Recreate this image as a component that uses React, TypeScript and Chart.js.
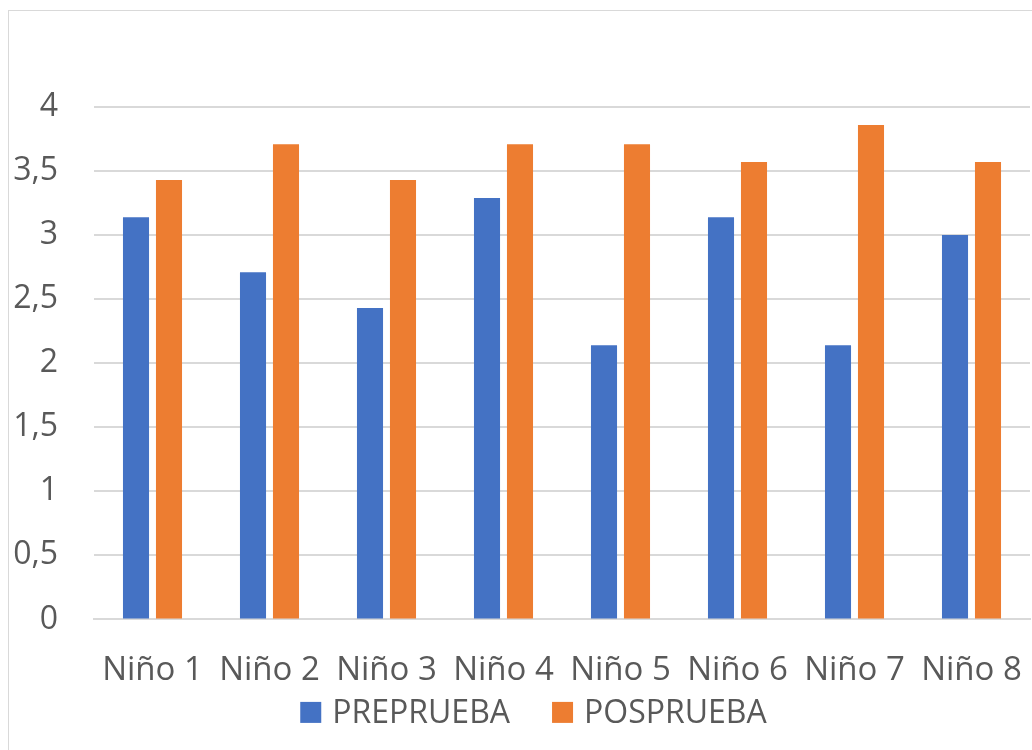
import React, { useEffect, useRef } from "react";
import { Chart, registerables } from "chart.js";

Chart.register(...registerables);

const categories = ["Niño 1", "Niño 2", "Niño 3", "Niño 4", "Niño 5", "Niño 6", "Niño 7", "Niño 8"];
const preprueba = [3.14, 2.71, 2.43, 3.29, 2.14, 3.14, 2.14, 3.0];
const posprueba = [3.43, 3.71, 3.43, 3.71, 3.71, 3.57, 3.86, 3.57];
const seriesNames = ["PREPRUEBA", "POSPRUEBA"];
const seriesColors = ["#4472C4", "#ED7D31"];

const FONT = "'Open Sans', sans-serif";
const TEXT = "#595959";
const GRID = "#d9d9d9";
const CLEAR = "rgba(0,0,0,0)";

// Legend drawn below the x-axis labels, spaced like the original (Excel-style)
const legendPlugin = {
  id: "excelLegend",
  afterDraw(chart: any) {
    const ctx = chart.ctx as CanvasRenderingContext2D;
    const box = 21;
    const gapBoxText = 11;
    const gapItems = 42;
    const centerX = 533.5;
    const cy = chart.chartArea.bottom + 93;
    ctx.save();
    ctx.font = `32px ${FONT}`;
    ctx.textBaseline = "middle";
    ctx.textAlign = "left";
    const items = chart.data.datasets.map((d: any) => ({
      text: String(d.label),
      color: String(d.backgroundColor),
    }));
    const widths = items.map((it: any) => box + gapBoxText + ctx.measureText(it.text).width);
    const total = widths.reduce((a: number, b: number) => a + b, 0) + gapItems * (items.length - 1);
    let x = centerX - total / 2;
    items.forEach((it: any, i: number) => {
      ctx.fillStyle = it.color;
      ctx.fillRect(x, cy - box / 2, box, box);
      ctx.fillStyle = TEXT;
      ctx.fillText(it.text, x + box + gapBoxText, cy + 1);
      x += widths[i] + gapItems;
    });
    ctx.restore();
  },
};

export default function App() {
  const ref = useRef<HTMLCanvasElement | null>(null);

  useEffect(() => {
    if (!ref.current) return;
    const chart = new Chart(ref.current, {
      type: "bar",
      data: {
        labels: categories,
        datasets: [
          {
            label: seriesNames[0],
            data: preprueba,
            backgroundColor: seriesColors[0],
            categoryPercentage: 0.564,
            barPercentage: 0.79,
          },
          {
            label: seriesNames[1],
            data: posprueba,
            backgroundColor: seriesColors[1],
            categoryPercentage: 0.564,
            barPercentage: 0.79,
          },
        ],
      },
      options: {
        responsive: false,
        animation: false,
        layout: { padding: { top: 107, right: 2, left: 0, bottom: 60 } },
        plugins: {
          tooltip: { enabled: false },
          title: { display: false },
          legend: { display: false },
        },
        scales: {
          x: {
            grid: { display: false, drawTicks: true, tickLength: 31, tickColor: CLEAR },
            border: { display: true, color: GRID, width: 2 },
            ticks: {
              font: { family: FONT, size: 33, lineHeight: 1.2 },
              color: TEXT,
              padding: 0,
              maxRotation: 0,
              autoSkip: false,
            },
          },
          y: {
            min: 0,
            max: 4,
            afterFit: (s: any) => {
              s.width = 94;
            },
            grid: { color: GRID, lineWidth: 2, drawTicks: true, tickLength: 36, tickColor: CLEAR },
            border: { display: false },
            ticks: {
              stepSize: 0.5,
              font: { family: FONT, size: 32 },
              color: TEXT,
              padding: 0,
              callback: (v: any) => String(v).replace(".", ","),
            },
          },
        },
      },
      plugins: [legendPlugin],
    });
    return () => chart.destroy();
  }, []);

  return (
    <div
      style={{
        position: "fixed",
        left: 0,
        top: 0,
        width: 1032,
        height: 750,
        overflow: "hidden",
        background: "#fff",
      }}
    >
      <div
        style={{
          position: "absolute",
          left: 8,
          top: 10,
          width: 1100,
          height: 800,
          border: `1px solid ${GRID}`,
          boxSizing: "border-box",
        }}
      />
      <canvas
        ref={ref}
        width={1032}
        height={750}
        style={{ position: "absolute", left: 0, top: 0, width: 1032, height: 750 }}
      />
    </div>
  );
}
